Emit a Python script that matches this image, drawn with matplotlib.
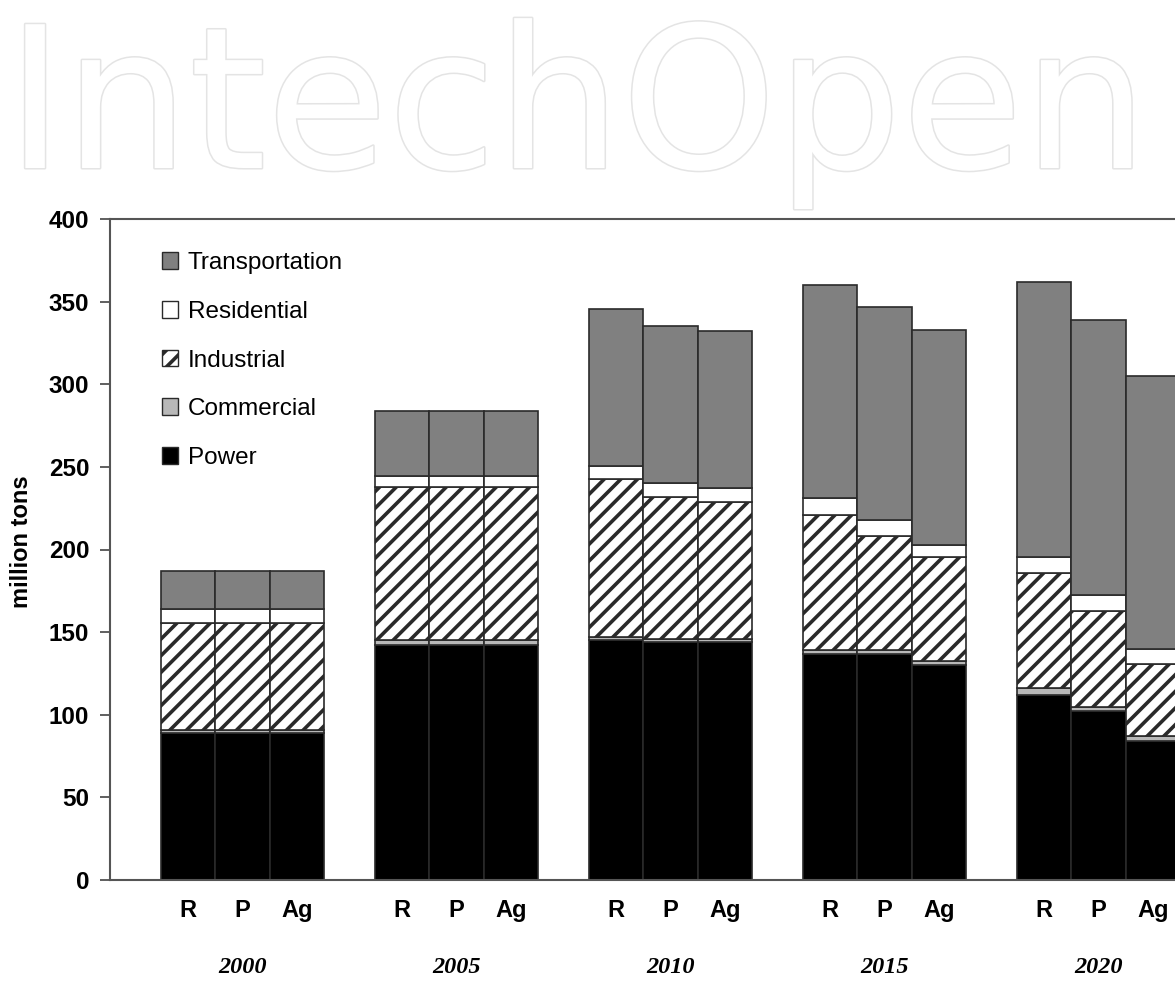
import matplotlib
matplotlib.use("Agg")
import matplotlib.pyplot as plt
import matplotlib.patheffects as pe
import matplotlib.transforms as mtransforms
from matplotlib.patches import Patch
import numpy as np

years = ["2000", "2005", "2010", "2015", "2020"]
scenarios = ["R", "P", "Ag"]

# million tons, bar order: R, P, Ag for each year
power = [89, 89, 89, 142, 142, 142, 145, 144, 144, 136.5, 137, 130, 112, 102, 84]
commercial = [2, 2, 2, 3, 3, 3, 2, 2, 2, 2.5, 2, 2.7, 4, 2.5, 3]
industrial = [64.5, 64.5, 64.5, 93, 93, 93, 95.5, 86, 83, 82, 69, 63, 69.5, 58.5, 43.5]
residential = [8.5, 8.5, 8.5, 6.5, 6.5, 6.5, 8, 8, 8.5, 10, 10, 7, 10, 9.5, 9]
transportation = [23, 23, 23, 39.5, 39.5, 39.5, 95, 95, 95, 129, 128.5, 130, 166.5, 166.5, 165.5]

sectors = ["Power", "Commercial", "Industrial", "Residential", "Transportation"]
series = [power, commercial, industrial, residential, transportation]
colors = ["#000000", "#b8b8b8", "#ffffff", "#ffffff", "#808080"]
hatches = [None, None, "//", None, None]

plt.rcParams["hatch.linewidth"] = 2.6
plt.rcParams["hatch.color"] = "black"
plt.rcParams["font.family"] = ["Liberation Sans", "DejaVu Sans"]

fig = plt.figure(figsize=(11.75, 9.81), dpi=100)
fig.patch.set_facecolor("white")

# watermark
fig.text(6 / 1175, (981 - 168) / 981, "IntechOpen", fontsize=142, color="white",
         ha="left", va="baseline", zorder=0, family="DejaVu Sans",
         path_effects=[pe.Stroke(linewidth=2.2, foreground="#e4e4e4"), pe.Normal()])

ax = fig.add_axes([110 / 1175, 101 / 981, 1121 / 1175, 661 / 981])
ax.set_facecolor("none")

period = 3.94
x = np.array([g * period + j for g in range(len(years)) for j in range(len(scenarios))])

bottom = np.zeros(len(x))
for vals, name, col, h in zip(series, sectors, colors, hatches):
    vals = np.array(vals, dtype=float)
    ax.bar(x, vals, width=1.0, bottom=bottom, color=col, edgecolor="#2a2a2a",
           linewidth=1.2, hatch=h, label=name, zorder=2)
    bottom += vals

ax.set_ylim(0, 400)
ax.set_yticks(np.arange(0, 401, 50))
ax.set_xlim(-1.44, 4 * period + 2.5 + 0.94)

ax.set_xticks(x)
ax.set_xticklabels(scenarios * len(years), fontsize=17, fontweight="bold")
ax.tick_params(axis="x", length=0, pad=14)
ax.tick_params(axis="y", direction="out", length=7, width=1.2, pad=8,
               labelsize=17.5, color="#444444")
for lbl in ax.get_yticklabels():
    lbl.set_fontweight("bold")

for s in ax.spines.values():
    s.set_color("#555555")
    s.set_linewidth(1.5)

trans = mtransforms.blended_transform_factory(ax.transData, ax.transAxes)
for g, yr in enumerate(years):
    ax.text(g * period + 1, -0.132, yr, transform=trans, ha="center", va="center",
            fontsize=17.5, fontweight="bold", style="italic",
            family=["Liberation Serif", "DejaVu Serif"])

fig.text(22 / 1175, (981 - 542) / 981, "million tons", rotation=90,
         ha="center", va="center", fontsize=17, fontweight="bold")

handles = [Patch(facecolor=c, edgecolor="#2a2a2a", hatch=h, linewidth=1.0)
           for c, h in zip(colors, hatches)]
order = [4, 3, 2, 1, 0]
ax.legend([handles[i] for i in order], [sectors[i] for i in order],
          loc="upper left", bbox_to_anchor=(0.046, 0.95), frameon=False,
          fontsize=17.5, handlelength=0.68, handleheight=0.68, handletextpad=0.4,
          labelspacing=1.1, borderpad=0, borderaxespad=0)

fig.savefig("out.png", dpi=100, facecolor=fig.get_facecolor())
